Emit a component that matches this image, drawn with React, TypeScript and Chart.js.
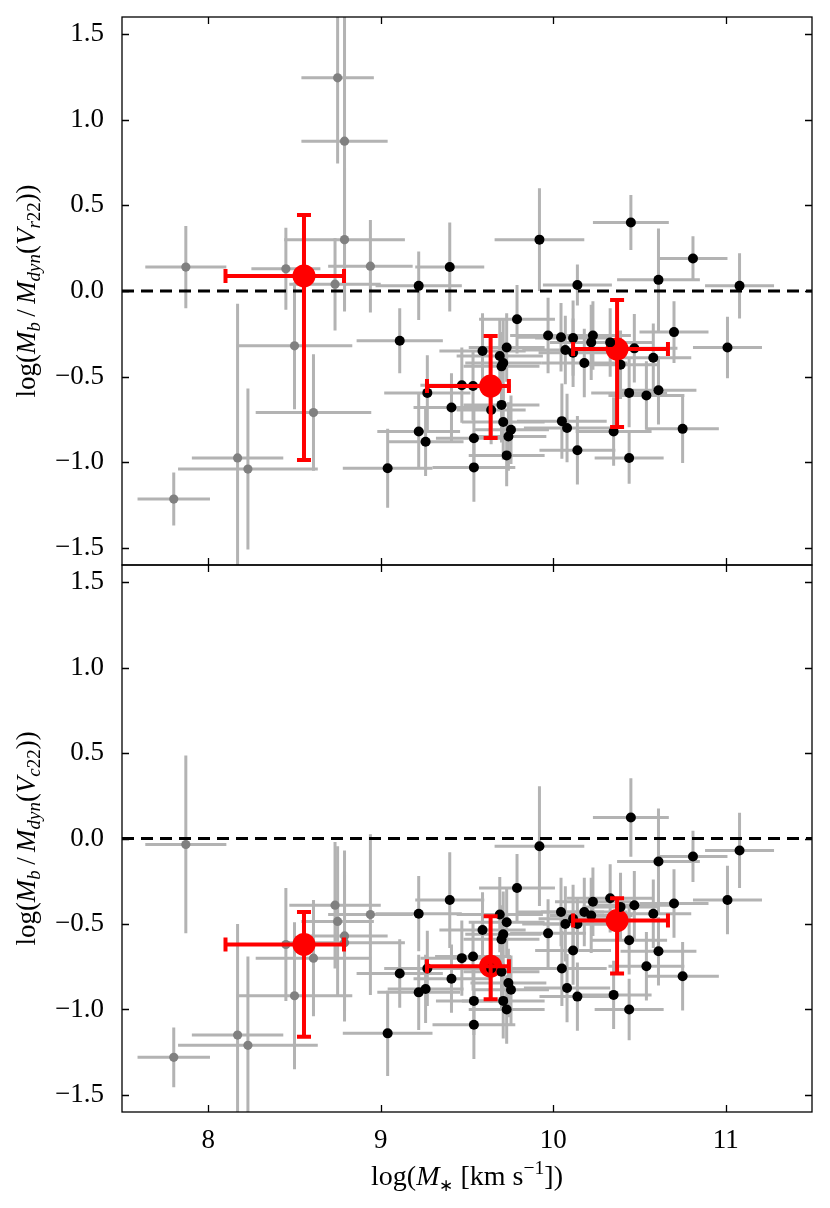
import { useEffect, useRef } from "react";
import { Chart, registerables } from "chart.js";

Chart.register(...registerables);

// ---- data ----
// low-mass galaxies (drawn in grey)
const GRAY_MASS = [8.75, 8.79, 8.79, 7.87, 8.45, 8.94, 8.735, 8.5, 8.61, 8.17, 8.23, 7.8];
const GRAY_MASS_ERR = [0.21, 0.25, 0.35, 0.235, 0.2, 0.245, 0.265, 0.335, 0.335, 0.265, 0.405, 0.21];
const GRAY_RATIO_VR = [1.245, 0.875, 0.3, 0.14, 0.13, 0.145, 0.04, -0.32, -0.71, -0.975, -1.04, -1.215];
const GRAY_RATIO_VR_ERR = [0.5, 0.98, 0.42, 0.24, 0.24, 0.27, 0.27, 0.37, 0.34, 0.9, 0.47, 0.155];
const GRAY_RATIO_VC = [-0.485, -0.57, -0.61, -0.035, -0.62, -0.445, -0.39, -0.92, -0.7, -1.15, -1.21, -1.28];
const GRAY_RATIO_VC_ERR = [0.44, 0.5, 0.4, 0.52, 0.33, 0.47, 0.37, 0.43, 0.34, 0.65, 0.52, 0.175];

// main sample (drawn in black)
const BLACK_MASS = [
  9.22, 9.4, 9.92, 10.14, 10.45, 10.81, 10.61, 11.08, 9.11, 9.79,
  9.97, 10.045, 10.115, 10.07, 10.18, 9.59, 9.73, 9.69, 9.71, 9.7,
  9.47, 9.535, 9.27, 9.41, 9.64, 9.7, 9.71, 9.755, 9.74, 9.22,
  9.26, 9.54, 9.73, 9.04, 9.54, 10.05, 10.08, 10.14, 10.23, 10.22,
  10.33, 10.47, 10.39, 10.58, 10.7, 11.01, 10.44, 10.54, 10.61, 10.35,
  10.75, 10.44, 10.115,
];
const BLACK_MASS_ERR = [
  0.25, 0.2, 0.26, 0.2, 0.22, 0.2, 0.24, 0.2, 0.25, 0.22,
  0.22, 0.25, 0.22, 0.25, 0.25, 0.25, 0.22, 0.25, 0.22, 0.22,
  0.24, 0.22, 0.25, 0.22, 0.2, 0.22, 0.24, 0.22, 0.22, 0.24,
  0.22, 0.22, 0.22, 0.26, 0.24, 0.26, 0.25, 0.22, 0.22, 0.24,
  0.25, 0.25, 0.22, 0.22, 0.2, 0.2, 0.22, 0.22, 0.22, 0.22,
  0.21, 0.2, 0.2,
];
const BLACK_RATIO_VR = [
  0.03, 0.14, 0.3, 0.035, 0.4, 0.19, 0.065, 0.03, -0.29, -0.165,
  -0.26, -0.27, -0.275, -0.345, -0.42, -0.35, -0.33, -0.38, -0.42, -0.44,
  -0.55, -0.555, -0.595, -0.68, -0.695, -0.665, -0.765, -0.81, -0.85, -0.82,
  -0.88, -0.86, -0.96, -1.035, -1.03, -0.76, -0.8, -0.93, -0.26, -0.3,
  -0.3, -0.335, -0.43, -0.39, -0.24, -0.33, -0.595, -0.61, -0.58, -0.82,
  -0.805, -0.975, -0.36,
];
const BLACK_RATIO_VR_ERR = [
  0.2, 0.26, 0.3, 0.12, 0.16, 0.13, 0.3, 0.19, 0.19, 0.2,
  0.22, 0.2, 0.22, 0.2, 0.2, 0.22, 0.2, 0.22, 0.25, 0.2,
  0.22, 0.2, 0.22, 0.2, 0.2, 0.22, 0.22, 0.2, 0.2, 0.22,
  0.2, 0.2, 0.18, 0.23, 0.2, 0.22, 0.2, 0.2, 0.2, 0.22,
  0.2, 0.2, 0.2, 0.2, 0.18, 0.18, 0.2, 0.2, 0.2, 0.2,
  0.2, 0.15, 0.2,
];
const BLACK_RATIO_VC = [
  -0.44, -0.36, -0.045, -0.5, 0.123, -0.105, -0.135, -0.07, -0.79, -0.29,
  -0.555, -0.43, -0.655, -0.5, -0.43, -0.535, -0.49, -0.445, -0.56, -0.59,
  -0.7, -0.69, -0.76, -0.82, -0.76, -0.78, -0.95, -0.885, -0.845, -0.9,
  -0.88, -0.95, -1.0, -1.14, -1.09, -0.76, -0.875, -0.925, -0.37, -0.45,
  -0.35, -0.39, -0.4, -0.44, -0.38, -0.36, -0.595, -0.747, -0.66, -0.915,
  -0.806, -1.0, -0.47,
];
const BLACK_RATIO_VC_ERR = [
  0.22, 0.28, 0.35, 0.15, 0.23, 0.15, 0.31, 0.22, 0.2, 0.2,
  0.2, 0.2, 0.2, 0.22, 0.2, 0.22, 0.2, 0.22, 0.25, 0.2,
  0.22, 0.2, 0.22, 0.2, 0.2, 0.22, 0.22, 0.2, 0.2, 0.22,
  0.2, 0.2, 0.2, 0.25, 0.2, 0.22, 0.2, 0.2, 0.2, 0.22,
  0.2, 0.2, 0.2, 0.2, 0.2, 0.2, 0.2, 0.2, 0.2, 0.2,
  0.2, 0.18, 0.2,
];

// binned medians (red)
const BIN_MASS = [8.555, 9.637, 10.37];
const BIN_MASS_LO = [8.1, 9.268, 10.115];
const BIN_MASS_HI = [8.787, 9.743, 10.665];
const BIN_VR = [0.088, -0.555, -0.339];
const BIN_VR_LO = [-0.987, -0.858, -0.794];
const BIN_VR_HI = [0.444, -0.263, -0.053];
const BIN_VC = [-0.62, -0.747, -0.48];
const BIN_VC_LO = [-1.16, -0.94, -0.79];
const BIN_VC_HI = [-0.43, -0.455, -0.35];

const X_TICKS = [8, 9, 10, 11];
const Y_TICKS = [-1.5, -1.0, -0.5, 0.0, 0.5, 1.0, 1.5];

const SERIF = '"Liberation Serif", "Times New Roman", serif';
const ERR_GRAY = "#b3b3b3";
const PAD = 40; // generous canvas padding so Chart.js never shifts the plot box

type Run = { t: string; italic?: boolean; shift?: "sub" | "sup"; scale?: number };

const TITLE_VR: Run[] = [
  { t: "log(" }, { t: "M", italic: true }, { t: "b", italic: true, shift: "sub" },
  { t: "\u2009/\u2009" }, { t: "M", italic: true }, { t: "dyn", italic: true, shift: "sub" },
  { t: "(" }, { t: "V", italic: true }, { t: "r", italic: true, shift: "sub" }, { t: "22", shift: "sub" },
  { t: "))" },
];
const TITLE_VC: Run[] = [
  { t: "log(" }, { t: "M", italic: true }, { t: "b", italic: true, shift: "sub" },
  { t: "\u2009/\u2009" }, { t: "M", italic: true }, { t: "dyn", italic: true, shift: "sub" },
  { t: "(" }, { t: "V", italic: true }, { t: "c", italic: true, shift: "sub" }, { t: "22", shift: "sub" },
  { t: "))" },
];
const TITLE_X: Run[] = [
  { t: "log(" }, { t: "M", italic: true }, { t: "\u2217", shift: "sub", scale: 0.6 },
  { t: " [km s" }, { t: "\u22121", shift: "sup" }, { t: "])" },
];

function drawRuns(ctx: CanvasRenderingContext2D, runs: Run[], size: number) {
  let total = 0;
  const items = runs.map(r => {
    const s = r.scale ? size * r.scale : r.shift ? size * 0.7 : size;
    const font = `${r.italic ? "italic " : ""}${s}px ${SERIF}`;
    ctx.font = font;
    const w = ctx.measureText(r.t).width;
    total += w;
    return { r, font, w };
  });
  let x = -total / 2;
  ctx.textBaseline = "alphabetic";
  ctx.textAlign = "left";
  for (const it of items) {
    ctx.font = it.font;
    const dy = it.r.shift === "sub" ? size * 0.2 : it.r.shift === "sup" ? -size * 0.4 : 0;
    ctx.fillText(it.r.t, x, dy);
    x += it.w;
  }
}

interface PanelSpec {
  grayRatio: number[];
  grayErr: number[];
  blackRatio: number[];
  blackErr: number[];
  bin: number[];
  binLo: number[];
  binHi: number[];
  yTitle: Run[];
  showX: boolean;
}

const fmtY = (v: number) => v.toFixed(1).replace("-", "\u2212");

function makeDecor(p: PanelSpec) {
  return {
    id: "panelDecor",
    beforeDatasetsDraw(chart: Chart) {
      const { ctx, chartArea: a } = chart;
      const xs = chart.scales.x;
      const ys = chart.scales.y;
      ctx.save();
      ctx.beginPath();
      ctx.rect(a.left, a.top, a.right - a.left, a.bottom - a.top);
      ctx.clip();
      ctx.strokeStyle = ERR_GRAY;
      ctx.lineWidth = 3;
      ctx.lineCap = "butt";
      const bars = (mass: number[], massErr: number[], ratio: number[], ratioErr: number[]) => {
        mass.forEach((m, i) => {
          const px = xs.getPixelForValue(m);
          const py = ys.getPixelForValue(ratio[i]);
          ctx.beginPath();
          ctx.moveTo(xs.getPixelForValue(m - massErr[i]), py);
          ctx.lineTo(xs.getPixelForValue(m + massErr[i]), py);
          ctx.moveTo(px, ys.getPixelForValue(ratio[i] + ratioErr[i]));
          ctx.lineTo(px, ys.getPixelForValue(ratio[i] - ratioErr[i]));
          ctx.stroke();
        });
      };
      bars(GRAY_MASS, GRAY_MASS_ERR, p.grayRatio, p.grayErr);
      bars(BLACK_MASS, BLACK_MASS_ERR, p.blackRatio, p.blackErr);

      // zero line
      const y0 = ys.getPixelForValue(0);
      ctx.strokeStyle = "#000";
      ctx.lineWidth = 3;
      ctx.setLineDash([12, 7]);
      ctx.beginPath();
      ctx.moveTo(a.left, y0);
      ctx.lineTo(a.right, y0);
      ctx.stroke();
      ctx.restore();
    },
    afterDatasetsDraw(chart: Chart) {
      const { ctx } = chart;
      const xs = chart.scales.x;
      const ys = chart.scales.y;
      ctx.save();
      ctx.strokeStyle = "#ff0000";
      ctx.lineWidth = 4;
      const cap = 7;
      BIN_MASS.forEach((m, i) => {
        const px = xs.getPixelForValue(m);
        const py = ys.getPixelForValue(p.bin[i]);
        const xl = xs.getPixelForValue(BIN_MASS_LO[i]);
        const xh = xs.getPixelForValue(BIN_MASS_HI[i]);
        const yl = ys.getPixelForValue(p.binLo[i]);
        const yh = ys.getPixelForValue(p.binHi[i]);
        ctx.beginPath();
        ctx.moveTo(xl, py); ctx.lineTo(xh, py);
        ctx.moveTo(px, yh); ctx.lineTo(px, yl);
        ctx.moveTo(xl, py - cap); ctx.lineTo(xl, py + cap);
        ctx.moveTo(xh, py - cap); ctx.lineTo(xh, py + cap);
        ctx.moveTo(px - cap, yh); ctx.lineTo(px + cap, yh);
        ctx.moveTo(px - cap, yl); ctx.lineTo(px + cap, yl);
        ctx.stroke();
      });
      ctx.restore();
    },
    afterDraw(chart: Chart) {
      const { ctx, chartArea: a } = chart;
      const xs = chart.scales.x;
      const ys = chart.scales.y;
      ctx.save();
      ctx.strokeStyle = "#000";
      ctx.lineWidth = 1.3;
      ctx.strokeRect(a.left, a.top, a.right - a.left, a.bottom - a.top);
      const tl = 7;
      ctx.beginPath();
      X_TICKS.forEach(v => {
        const px = Math.round(xs.getPixelForValue(v)) + 0.5;
        ctx.moveTo(px, a.bottom); ctx.lineTo(px, a.bottom - tl);
        ctx.moveTo(px, a.top); ctx.lineTo(px, a.top + tl);
      });
      Y_TICKS.forEach(v => {
        const py = Math.round(ys.getPixelForValue(v)) + 0.5;
        ctx.moveTo(a.left, py); ctx.lineTo(a.left + tl, py);
        ctx.moveTo(a.right, py); ctx.lineTo(a.right - tl, py);
      });
      ctx.stroke();

      ctx.fillStyle = "#000";
      ctx.save();
      ctx.translate(35, (a.top + a.bottom) / 2);
      ctx.rotate(-Math.PI / 2);
      drawRuns(ctx, p.yTitle, 27);
      ctx.restore();

      if (p.showX) {
        ctx.save();
        ctx.translate((a.left + a.right) / 2, a.bottom + 73);
        drawRuns(ctx, TITLE_X, 28);
        ctx.restore();
      }
      ctx.restore();
    },
  };
}

function Panel({ spec, plotTop, plotHeight, axisHeight }: {
  spec: PanelSpec; plotTop: number; plotHeight: number; axisHeight: number;
}) {
  const canvasRef = useRef<HTMLCanvasElement>(null);
  const height = PAD + plotHeight + (spec.showX ? axisHeight : PAD);
  const top = plotTop - PAD;

  useEffect(() => {
    if (!canvasRef.current) return;
    const chart = new Chart(canvasRef.current, {
      type: "scatter",
      data: {
        datasets: [
          {
            data: GRAY_MASS.map((x, i) => ({ x, y: spec.grayRatio[i] })),
            pointRadius: 4.6,
            backgroundColor: "#808080",
            borderWidth: 0,
          },
          {
            data: BLACK_MASS.map((x, i) => ({ x, y: spec.blackRatio[i] })),
            pointRadius: 5,
            backgroundColor: "#000000",
            borderWidth: 0,
          },
          {
            data: BIN_MASS.map((x, i) => ({ x, y: spec.bin[i] })),
            pointRadius: 11.5,
            backgroundColor: "#ff0000",
            borderWidth: 0,
          },
        ],
      },
      options: {
        responsive: false,
        animation: false,
        events: [],
        layout: { padding: { top: PAD, right: 18, bottom: spec.showX ? 0 : PAD, left: 0 } },
        plugins: { legend: { display: false }, tooltip: { enabled: false } },
        scales: {
          x: {
            type: "linear",
            min: 7.5,
            max: 11.5,
            display: spec.showX,
            grid: { display: false },
            border: { display: false },
            afterBuildTicks: s => { s.ticks = X_TICKS.map(value => ({ value })); },
            afterFit: s => { s.height = axisHeight; },
            ticks: {
              padding: 5,
              color: "#000",
              font: { family: SERIF, size: 27 },
              callback: v => String(v),
            },
          },
          y: {
            type: "linear",
            min: -1.6,
            max: 1.6,
            grid: { display: false },
            border: { display: false },
            afterBuildTicks: s => { s.ticks = Y_TICKS.map(value => ({ value })); },
            afterFit: s => { s.width = 122; },
            ticks: {
              padding: 10,
              color: "#000",
              font: { family: SERIF, size: 27 },
              callback: v => fmtY(Number(v)),
            },
          },
        },
      },
      plugins: [makeDecor(spec)],
    });
    return () => chart.destroy();
  }, [spec, axisHeight]);

  return (
    <canvas
      ref={canvasRef}
      width={830}
      height={height}
      style={{ position: "absolute", left: 0, top, width: 830, height }}
    />
  );
}

const TOP_PANEL: PanelSpec = {
  grayRatio: GRAY_RATIO_VR,
  grayErr: GRAY_RATIO_VR_ERR,
  blackRatio: BLACK_RATIO_VR,
  blackErr: BLACK_RATIO_VR_ERR,
  bin: BIN_VR,
  binLo: BIN_VR_LO,
  binHi: BIN_VR_HI,
  yTitle: TITLE_VR,
  showX: false,
};

const BOTTOM_PANEL: PanelSpec = {
  grayRatio: GRAY_RATIO_VC,
  grayErr: GRAY_RATIO_VC_ERR,
  blackRatio: BLACK_RATIO_VC,
  blackErr: BLACK_RATIO_VC_ERR,
  bin: BIN_VC,
  binLo: BIN_VC_LO,
  binHi: BIN_VC_HI,
  yTitle: TITLE_VC,
  showX: true,
};

export default function App() {
  useEffect(() => {
    document.body.style.margin = "0";
  }, []);

  return (
    <div style={{ position: "relative", width: 830, height: 1208, overflow: "hidden", background: "#fff" }}>
      <Panel spec={TOP_PANEL} plotTop={17} plotHeight={548} axisHeight={0} />
      <Panel spec={BOTTOM_PANEL} plotTop={565} plotHeight={547} axisHeight={96} />
    </div>
  );
}
